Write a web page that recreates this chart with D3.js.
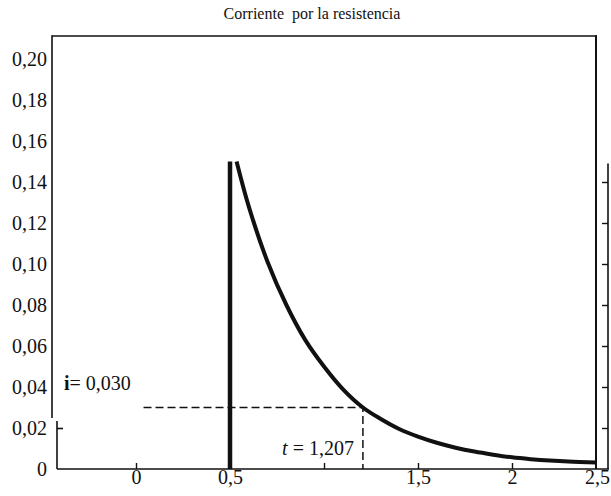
<!DOCTYPE html>
<html><head><meta charset="utf-8">
<script src="https://cdn.jsdelivr.net/npm/d3@7"></script>
<style>
html,body{margin:0;padding:0;background:#fff;}
svg{display:block;}
svg text{font-family:"Liberation Serif","Times New Roman",Times,"DejaVu Serif",serif !important;}
</style></head><body>
<svg id="chart" width="611" height="496"></svg>
<script>
// Axis ticks and labels
const yTickValues = [0, 0.02, 0.04, 0.06, 0.08, 0.10, 0.12, 0.14, 0.16, 0.18, 0.20];
const yTickLabels = ["0", "0,02", "0,04", "0,06", "0,08", "0,10", "0,12", "0,14", "0,16", "0,18", "0,20"];
const rightTickValues = [0.02, 0.04, 0.06, 0.08, 0.10, 0.12, 0.14];
const xTickValues = [0, 0.5, 1.5, 2, 2.5];
const xTickLabels = ["0", "0,5", "1,5", "2", "2,5"];
const xMarkValues = [0, 1, 1.5, 2];

// Current pulse: switch-on edge and exponential decay (t in s, i in A)
const pulseT = [0.5, 0.5];
const pulseI = [0, 0.150];
const decayT = [0.535, 0.6, 0.7, 0.8, 0.9, 1.0, 1.1, 1.207, 1.3, 1.4, 1.5, 1.6, 1.7, 1.8, 1.9, 2.0, 2.1, 2.2, 2.3, 2.447];
const decayI = [0.150, 0.128, 0.101, 0.080, 0.063, 0.050, 0.039, 0.030, 0.0245, 0.0195, 0.0158, 0.0128, 0.0104, 0.0085, 0.0070, 0.0057, 0.0048, 0.0041, 0.0036, 0.0032];

// Marked point
const markT = 1.207;
const markI = 0.030;
const markGuideStart = 0.04;

const svg = d3.select("#chart");
const x = d3.scaleLinear().domain([0, 2.5]).range([136, 606]);
const y = d3.scaleLinear().domain([0, 0.2]).range([469, 59]);

const ink = "#111";
const fs = 20;

// Title
svg.append("text").attr("x", 312).attr("y", 19).attr("text-anchor", "middle")
  .attr("font-size", 16).attr("fill", ink).attr("xml:space", "preserve")
  .text("Corriente  por la resistencia");

// Frame
const frame = svg.append("g").attr("stroke", ink).attr("fill", "none");
frame.append("line").attr("x1", 52).attr("x2", 597).attr("y1", 36).attr("y2", 36).attr("stroke-width", 1.6);
frame.append("line").attr("x1", 52).attr("x2", 52).attr("y1", 35.2).attr("y2", 418).attr("stroke-width", 1.6);
frame.append("line").attr("x1", 596).attr("x2", 596).attr("y1", 35.2).attr("y2", y(0)).attr("stroke-width", 2);
frame.append("line").attr("x1", 57).attr("x2", 57).attr("y1", 421).attr("y2", y(0)).attr("stroke-width", 1.6);
frame.append("line").attr("x1", 57).attr("x2", 609).attr("y1", y(0)).attr("y2", y(0)).attr("stroke-width", 1.6);

// Left labels
const yLeft = svg.append("g").attr("transform", "translate(52,0)")
  .call(d3.axisLeft(y).tickValues(yTickValues).tickSize(0).tickPadding(5)
    .tickFormat((d, i) => yTickLabels[i]));
yLeft.select(".domain").remove();
yLeft.selectAll("text").attr("font-size", fs).attr("fill", ink);

// Small tick at 0,02 on the lower left segment
const yLow = svg.append("g").attr("transform", "translate(57,0)")
  .call(d3.axisRight(y).tickValues([0.02]).tickSize(6).tickFormat(""));
yLow.select(".domain").remove();
yLow.selectAll("line").attr("stroke", ink).attr("stroke-width", 1.6);

// Right-hand scale
const yRight = svg.append("g").attr("transform", "translate(608,0)")
  .call(d3.axisLeft(y).tickValues(rightTickValues).tickSize(6).tickFormat(""));
yRight.select(".domain").attr("d", `M0,${y(0.149)}V${y(0)}`).attr("stroke", ink).attr("stroke-width", 1.6);
yRight.selectAll("line").attr("stroke", ink).attr("stroke-width", 1.4);

// X ticks (pointing up) and labels below
const xMarks = svg.append("g").attr("transform", `translate(0,${y(0)})`)
  .call(d3.axisBottom(x).tickValues(xMarkValues).tickSize(-6).tickFormat(""));
xMarks.select(".domain").remove();
xMarks.selectAll("line").attr("stroke", ink).attr("stroke-width", 1.4);

const xLab = svg.append("g").attr("transform", `translate(0,${y(0)})`)
  .call(d3.axisBottom(x).tickValues(xTickValues).tickSize(0).tickPadding(1)
    .tickFormat((d, i) => xTickLabels[i]));
xLab.select(".domain").remove();
xLab.selectAll("text").attr("font-size", fs).attr("fill", ink);
xLab.selectAll("text").filter(d => d === 2.5).attr("dx", -9);

// Guides to the marked point
svg.append("path")
  .attr("d", `M${x(markGuideStart)},${y(markI)}H${x(markT)}V${y(0)}`)
  .attr("fill", "none").attr("stroke", ink).attr("stroke-width", 1.5).attr("stroke-dasharray", "8,4");

// Pulse edge
svg.append("path")
  .datum(pulseT.map((t, i) => [t, pulseI[i]]))
  .attr("d", d3.line().x(d => x(d[0])).y(d => y(d[1])))
  .attr("fill", "none").attr("stroke", ink).attr("stroke-width", 4.5);

// Decay curve
svg.append("path")
  .datum(decayT.map((t, i) => [t, decayI[i]]))
  .attr("d", d3.line().curve(d3.curveCatmullRom.alpha(0.5)).x(d => x(d[0])).y(d => y(d[1])))
  .attr("fill", "none").attr("stroke", ink).attr("stroke-width", 4);

// Annotations
const ann1 = svg.append("text").attr("x", 64).attr("y", 390).attr("font-size", fs).attr("fill", ink);
ann1.append("tspan").attr("font-weight", "bold").text("i");
ann1.append("tspan").text("= " + d3.format(".3f")(markI).replace(".", ","));

const ann2 = svg.append("text").attr("x", x(markT) - 9).attr("y", 455).attr("text-anchor", "end")
  .attr("font-size", fs).attr("fill", ink);
ann2.append("tspan").attr("font-style", "italic").text("t");
ann2.append("tspan").text(" = " + String(markT).replace(".", ","));
</script>
</body></html>
